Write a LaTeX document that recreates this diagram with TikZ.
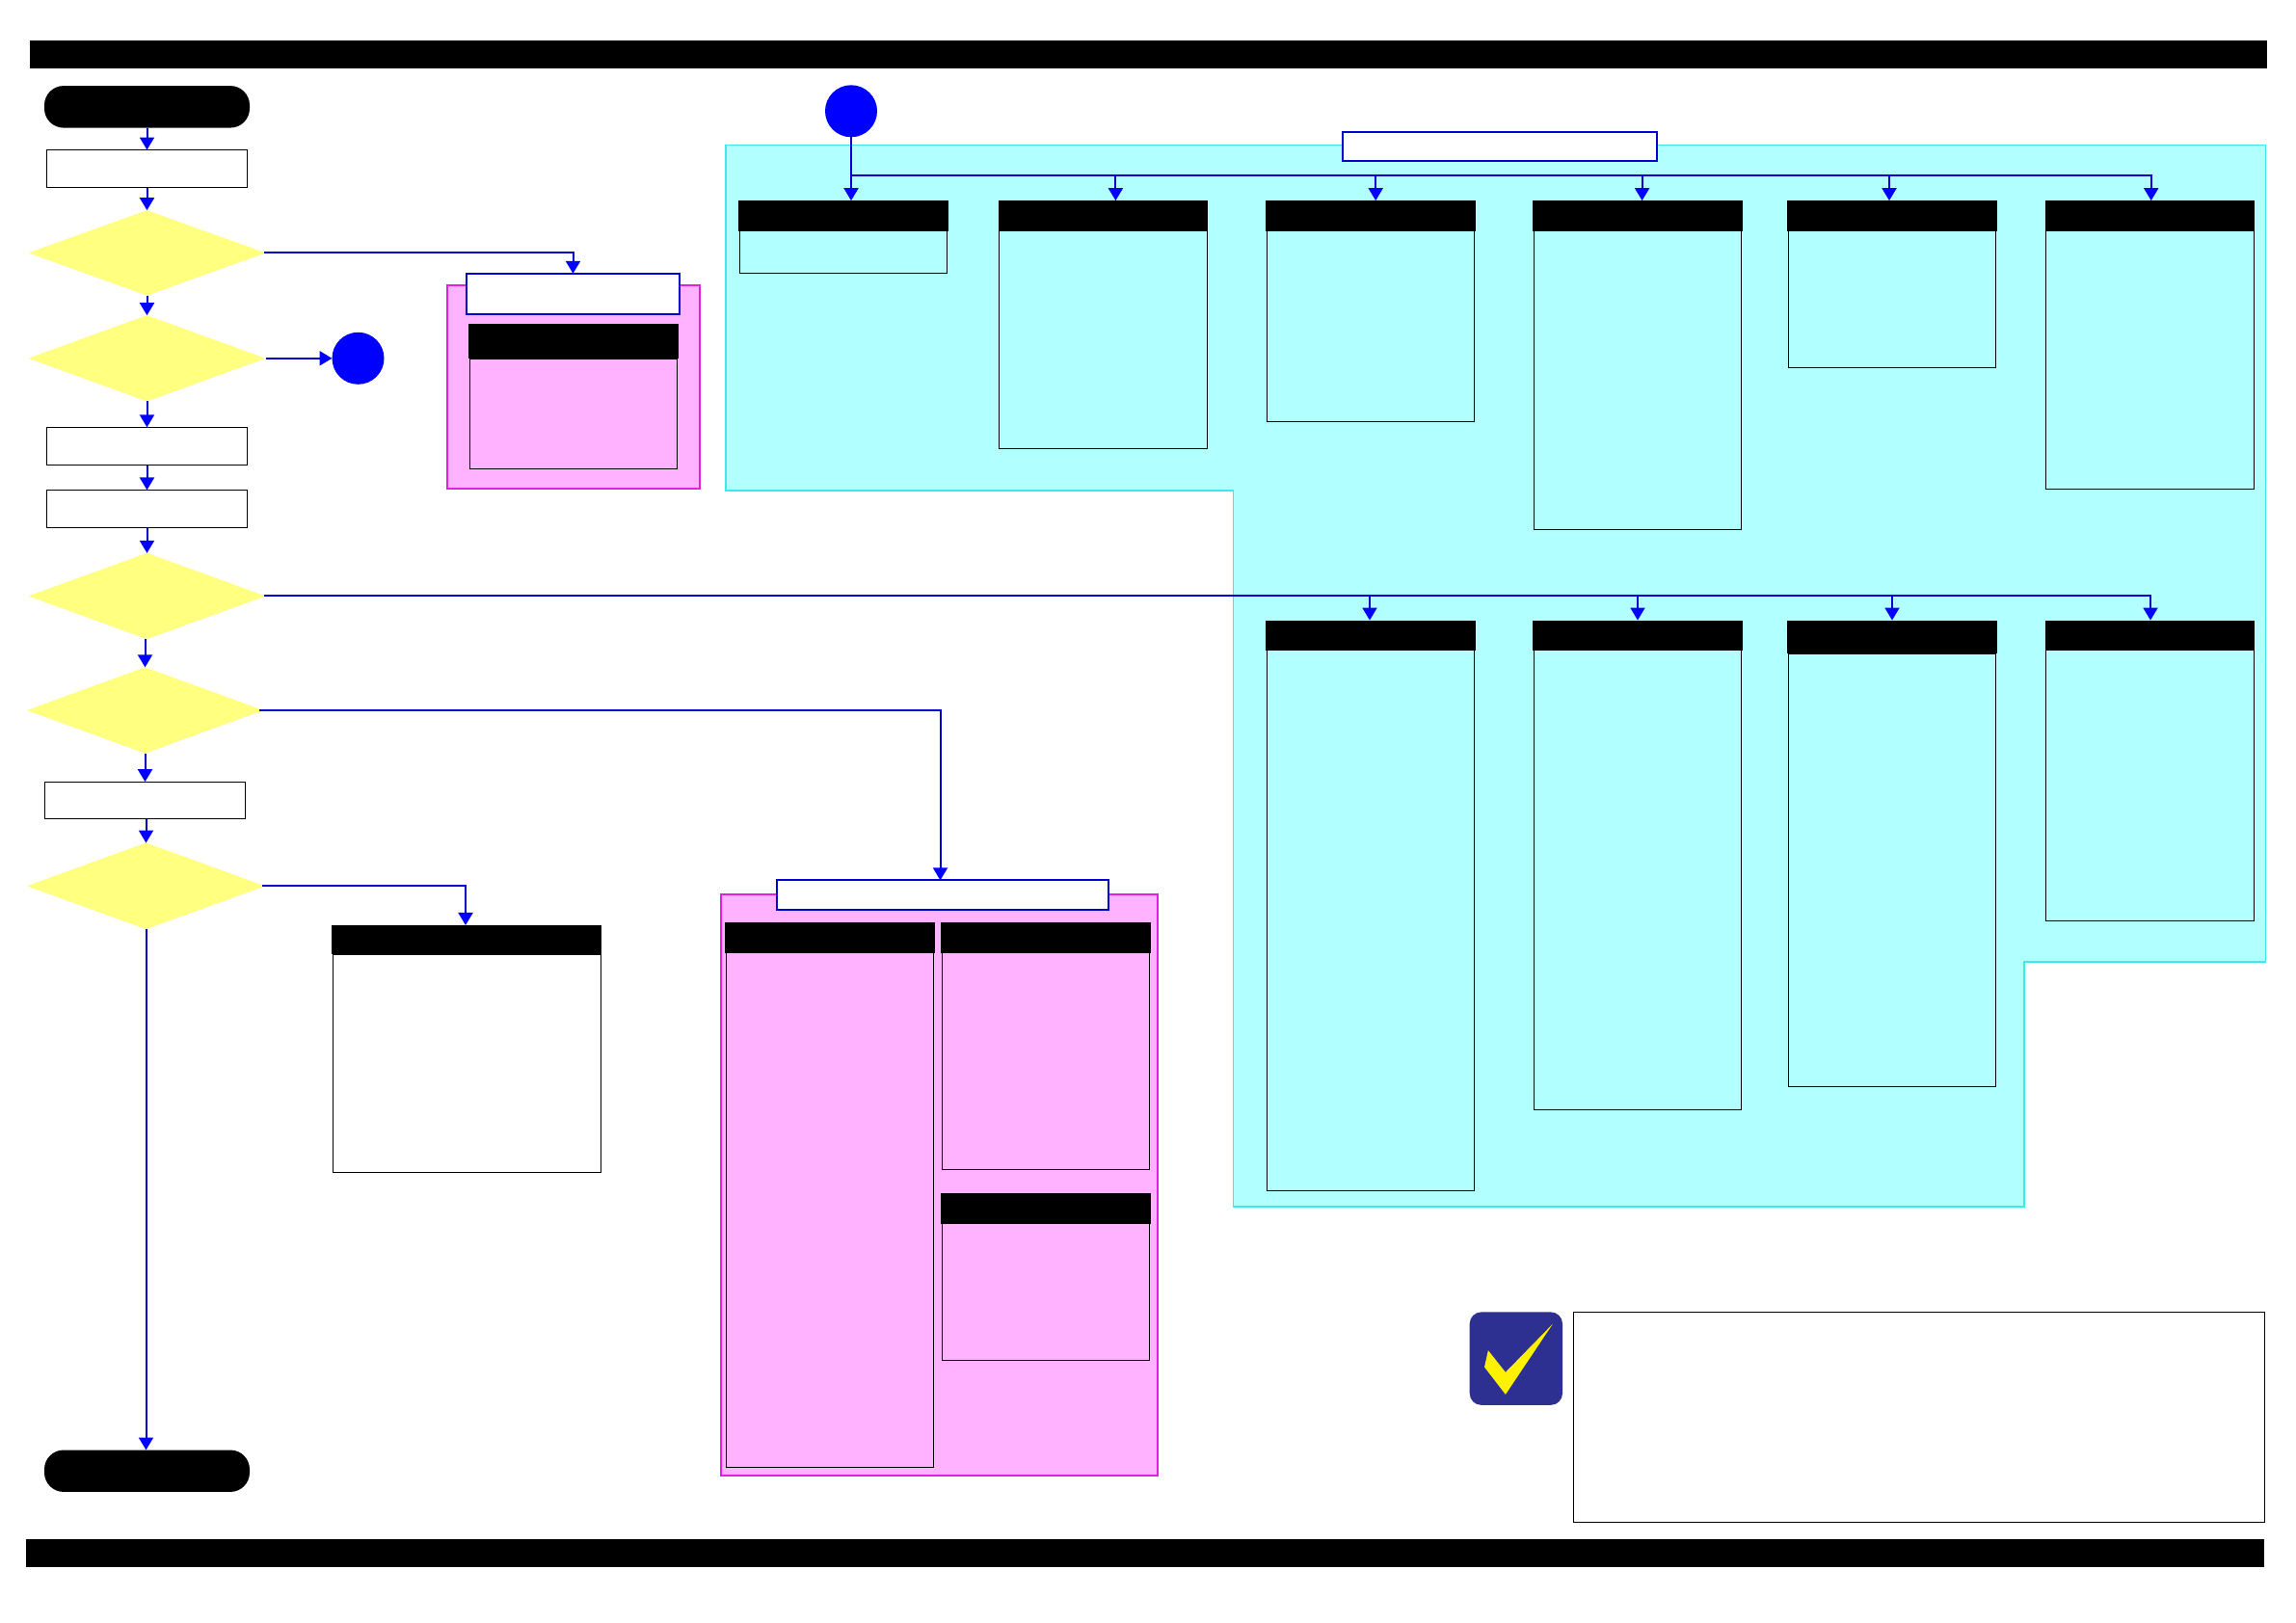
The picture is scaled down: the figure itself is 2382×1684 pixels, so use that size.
\documentclass[tikz,border=0pt]{standalone}
\usepackage{tikz}
\usetikzlibrary{positioning}
\usetikzlibrary{arrows.meta}
\usetikzlibrary{shapes.geometric}
\definecolor{flowLineColor}{rgb}{0,0,0.82}
\definecolor{flowTipColor}{rgb}{0,0,1}
\definecolor{decisionColor}{rgb}{1,1,0.5}
\definecolor{cyanZoneColor}{rgb}{0.70,1,1}
\definecolor{cyanEdgeColor}{rgb}{0.25,0.91,0.91}
\definecolor{pinkZoneColor}{rgb}{1,0.70,1}
\definecolor{pinkEdgeColor}{rgb}{0.88,0.12,0.88}
\definecolor{logoColor}{rgb}{0.18,0.19,0.57}
\definecolor{checkColor}{rgb}{1,0.95,0}

\begin{document}
\begin{tikzpicture}[x=1pt,y=-1.0008pt]

          \tikzstyle{barNode} = [rectangle,fill=black,inner sep=0pt,outer sep=0pt];
          \tikzstyle{headNode} = [barNode];
          \tikzstyle{termNode} = [barNode,rounded corners=20pt];
          \tikzstyle{stepNode} = [rectangle,draw=black,fill=white,line width=1pt,inner sep=0pt,outer sep=0pt];
          \tikzstyle{bodyNode} = [rectangle,draw=black,line width=0.9pt,inner sep=0pt,outer sep=0pt];
          \tikzstyle{decisionNode} = [diamond,fill=decisionColor,inner sep=0pt,outer sep=0pt];
          \tikzstyle{markNode} = [circle,fill=flowTipColor,minimum size=54pt,inner sep=0pt,outer sep=0pt];
          \tikzstyle{titleNode} = [rectangle,draw=flowLineColor,fill=white,line width=2pt,inner sep=0pt,outer sep=0pt];
          \tikzstyle{pinkNode} = [rectangle,draw=pinkEdgeColor,fill=pinkZoneColor,line width=2pt,inner sep=0pt,outer sep=0pt];
          \tikzstyle{flowEdge} = [flowLineColor,line width=2pt,-{Triangle[length=13pt,width=15pt,color=flowTipColor]}];

          \useasboundingbox (0,0) rectangle (2382,1682.65);

          \node[barNode,minimum width=2321pt,minimum height=29pt] (topBar) at (1191,56.5) {};
          \node[barNode,minimum width=2322pt,minimum height=29pt] (bottomBar) at (1188,1610.5) {};

          \draw[cyanEdgeColor,fill=cyanZoneColor,line width=1.8pt] (753,150.4) -- (2350.5,150.4) -- (2350.5,997.4) -- (2100.3,997.4) -- (2100.3,1251) -- (1279.5,1251) -- (1279.5,508.2) -- (753,508.2) -- cycle;

          \node[termNode,minimum width=213pt,minimum height=43.5pt] (startTerm) at (152.5,110.75) {};
          \node[stepNode,minimum width=208pt,minimum height=39.2pt] (stepOne) at (152.5,175) {};
          \node[decisionNode,minimum width=246pt,minimum height=88.4pt] (decOne) at (152.5,262.2) {};
          \node[decisionNode,minimum width=246pt,minimum height=89.3pt] (decTwo) at (152.5,371.5) {};
          \node[markNode] (markLeft) at (371.5,371.5) {};
          \node[stepNode,minimum width=208pt,minimum height=39.5pt] (stepTwo) at (152.5,462.75) {};
          \node[stepNode,minimum width=208pt,minimum height=39.5pt] (stepThree) at (152.5,527.75) {};
          \node[decisionNode,minimum width=246pt,minimum height=89.3pt] (decThree) at (152.5,618) {};
          \node[decisionNode,minimum width=245pt,minimum height=89.3pt] (decFour) at (150.5,736.4) {};
          \node[stepNode,minimum width=208pt,minimum height=38pt] (stepFour) at (150.5,829.5) {};
          \node[decisionNode,minimum width=247pt,minimum height=89.6pt] (decFive) at (151.5,918.6) {};
          \node[termNode,minimum width=213pt,minimum height=43.4pt] (endTerm) at (152.5,1525) {};

          \node[pinkNode,minimum width=262.2pt,minimum height=211pt] (pinkSmall) at (594.9,401.25) {};
          \node[titleNode,minimum width=221pt,minimum height=42.4pt] (titleSmall) at (594.5,304.8) {};
          \node[headNode,minimum width=218pt,minimum height=36pt] (headSmall) at (595,354) {};
          \node[bodyNode,minimum width=214.8pt,minimum height=113.7pt,below=0pt of headSmall] (bodySmall) {};

          \node[headNode,minimum width=280pt,minimum height=30.4pt] (headWhite) at (484,974.4) {};
          \node[bodyNode,fill=white,minimum width=278pt,minimum height=225.8pt,below=0pt of headWhite] (bodyWhite) {};

          \node[pinkNode,minimum width=453pt,minimum height=602.7pt] (pinkBig) at (974.5,1228.65) {};
          \node[titleNode,minimum width=344.5pt,minimum height=30.4pt] (titleBig) at (978,927.8) {};
          \node[headNode,minimum width=218pt,minimum height=32pt] (headA) at (861,971.95) {};
          \node[bodyNode,minimum width=215pt,minimum height=533.5pt,below=0pt of headA] (bodyA) {};
          \node[headNode,minimum width=218pt,minimum height=32pt] (headB) at (1085,971.95) {};
          \node[bodyNode,minimum width=215pt,minimum height=225pt,below=0pt of headB] (bodyB) {};
          \node[headNode,minimum width=218pt,minimum height=31.8pt] (headC) at (1085,1252.9) {};
          \node[bodyNode,minimum width=215pt,minimum height=141.6pt,below=0pt of headC] (bodyC) {};

          \node[markNode] (markTop) at (883,115.2) {};
          \node[titleNode,minimum width=326pt,minimum height=30.6pt] (titleCyan) at (1556,151.9) {};
          \coordinate (busTop) at (883,181.8);

          \node[headNode,minimum width=218pt,minimum height=31.7pt] (rowOneA) at (875,223.8) {};
          \node[bodyNode,minimum width=214.7pt,minimum height=44pt,below=0pt of rowOneA] (boxOneA) {};
          \node[headNode,minimum width=217pt,minimum height=31.7pt] (rowOneB) at (1144.8,223.8) {};
          \node[bodyNode,minimum width=216pt,minimum height=226pt,below=0pt of rowOneB] (boxOneB) {};
          \node[headNode,minimum width=218pt,minimum height=31.7pt] (rowOneC) at (1422,223.8) {};
          \node[bodyNode,minimum width=214.7pt,minimum height=198pt,below=0pt of rowOneC] (boxOneC) {};
          \node[headNode,minimum width=217.6pt,minimum height=31.7pt] (rowOneD) at (1698.8,223.8) {};
          \node[bodyNode,minimum width=215pt,minimum height=309.7pt,below=0pt of rowOneD] (boxOneD) {};
          \node[headNode,minimum width=218.2pt,minimum height=31.7pt] (rowOneE) at (1962.9,223.8) {};
          \node[bodyNode,minimum width=214.8pt,minimum height=141.7pt,below=0pt of rowOneE] (boxOneE) {};
          \node[headNode,minimum width=217pt,minimum height=31.7pt] (rowOneF) at (2230.5,223.8) {};
          \node[bodyNode,minimum width=216pt,minimum height=267.7pt,below=0pt of rowOneF] (boxOneF) {};

          \node[headNode,minimum width=218pt,minimum height=31.2pt] (rowTwoA) at (1422,658.6) {};
          \node[bodyNode,minimum width=215pt,minimum height=561.2pt,below=0pt of rowTwoA] (boxTwoA) {};
          \node[headNode,minimum width=218pt,minimum height=31.2pt] (rowTwoB) at (1699,658.6) {};
          \node[bodyNode,minimum width=215pt,minimum height=477.2pt,below=0pt of rowTwoB] (boxTwoB) {};
          \node[headNode,minimum width=218pt,minimum height=34.8pt] (rowTwoC) at (1963,660.4) {};
          \node[bodyNode,minimum width=215.3pt,minimum height=449.5pt,below=0pt of rowTwoC] (boxTwoC) {};
          \node[headNode,minimum width=217pt,minimum height=31.2pt] (rowTwoD) at (2230.6,658.6) {};
          \node[bodyNode,minimum width=216pt,minimum height=281.2pt,below=0pt of rowTwoD] (boxTwoD) {};

          \node[rectangle,fill=logoColor,rounded corners=12pt,minimum width=96.3pt,minimum height=96.4pt,inner sep=0pt] (logoBox) at (1572.85,1408.5) {};
          \fill[checkColor] (1610.8,1372.7) -- (1561.9,1422.7) -- (1543.9,1400) -- (1540,1417.3) -- (1561.9,1445.7) -- cycle;
          \node[stepNode,minimum width=717pt,minimum height=218pt] (noteBox) at (1990.75,1469.3) {};

          \draw[flowEdge] (startTerm) -- (stepOne);
          \draw[flowEdge] (stepOne) -- (decOne);
          \draw[flowEdge] (decOne) -- (decTwo);
          \draw[flowEdge] (decTwo) -- (stepTwo);
          \draw[flowEdge] (stepTwo) -- (stepThree);
          \draw[flowEdge] (stepThree) -- (decThree);
          \draw[flowEdge] (decFour |- decThree.south) -- (decFour.north);
          \draw[flowEdge] (decFour) -- (stepFour);
          \draw[flowEdge] (decFive |- stepFour.south) -- (decFive.north);
          \draw[flowEdge] (decFive.south) -- (decFive |- endTerm.north);

          \draw[flowEdge] ([xshift=-2pt]decOne.east) -| (titleSmall.north);
          \draw[flowEdge] (decTwo.east) -- (markLeft.west);
          \draw[flowEdge] ([xshift=-4pt]decFour.east) -| ([xshift=-2.5pt]titleBig.north);
          \draw[flowEdge] ([xshift=-3pt]decFive.east) -| ([xshift=-1pt]headWhite.north);

          \draw[flowEdge] (markTop.south) -- (markTop |- rowOneA.north);
          \draw[flowEdge] (busTop) -| ([xshift=12.6pt]rowOneB.north);
          \draw[flowEdge] (busTop) -| ([xshift=5.2pt]rowOneC.north);
          \draw[flowEdge] (busTop) -| ([xshift=4.8pt]rowOneD.north);
          \draw[flowEdge] (busTop) -| ([xshift=-2.9pt]rowOneE.north);
          \draw[flowEdge] (busTop) -| ([xshift=1.2pt]rowOneF.north);

          \draw[flowEdge] ([xshift=-2pt]decThree.east) -| ([xshift=-1pt]rowTwoA.north);
          \draw[flowEdge] ([xshift=-2pt]decThree.east) -| (rowTwoB.north);
          \draw[flowEdge] ([xshift=-2pt]decThree.east) -| (rowTwoC.north);
          \draw[flowEdge] ([xshift=-2pt]decThree.east) -| ([xshift=0.4pt]rowTwoD.north);
        \end{tikzpicture}
\end{document}
